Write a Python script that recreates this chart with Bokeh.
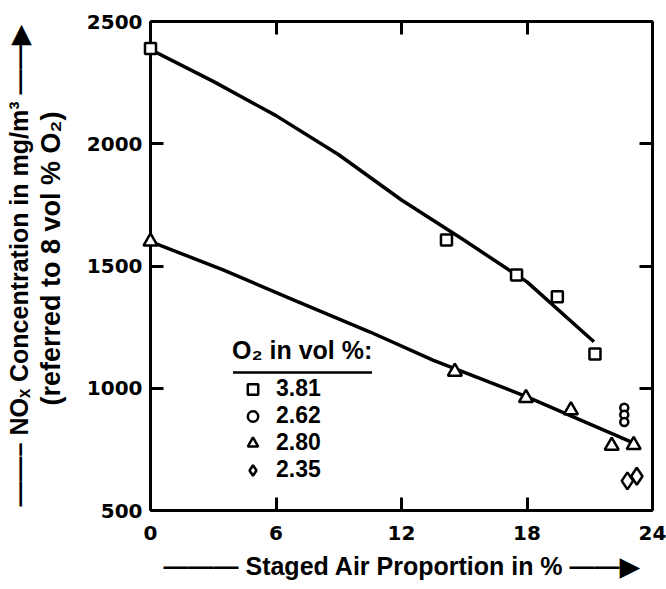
from bokeh.plotting import figure
from bokeh.models import (Range1d, LinearAxis, FixedTicker, Legend, LegendItem, Arrow)
from bokeh.embed import file_html
from bokeh.resources import INLINE

# ---- data ----
o2_381_x = [0.0, 14.15, 17.5, 19.45, 21.25]
o2_381_y = [2390, 1606, 1463, 1374, 1140]
o2_262_x = [22.65, 22.65, 22.65]
o2_262_y = [920, 892, 862]
o2_280_x = [0.0, 14.55, 17.95, 20.1, 22.05, 23.1]
o2_280_y = [1600, 1068, 960, 910, 765, 768]
o2_235_x = [22.8, 23.25]
o2_235_y = [621, 640]
fit_381_x = [0, 3, 6, 9, 12, 15, 18, 21.2]
fit_381_y = [2385, 2255, 2115, 1955, 1770, 1605, 1435, 1190]
fit_280_x = [0, 3.5, 7, 10.5, 13.5, 18, 23.0]
fit_280_y = [1600, 1483, 1355, 1230, 1115, 965, 780]
x_ticks = [0, 6, 12, 18, 24]
y_ticks = [500, 1000, 1500, 2000, 2500]
legend_title = "O\u2082 in vol %:"
legend_labels = ["3.81", "2.62", "2.80", "2.35"]
x_title = "\u2014\u2014\u2014 Staged Air Proportion in % \u2014\u2014\u25b6"
y_title_1 = "\u2014\u2014\u2013 NO\u2093 Concentration in mg/m\u00b3 \u2014\u2014\u25b6"
y_title_2 = "\u00a0\u00a0(referred to 8 vol % O\u2082)"

LBL_FONT = "Liberation Sans"
TICK_FONT = "DejaVu Sans"

p = figure(width=666, height=589, output_backend="svg", toolbar_location=None,
           x_range=Range1d(0, 24), y_range=Range1d(500, 2500),
           min_border_left=150, min_border_right=14, min_border_top=21,
           min_border_bottom=79)
p.grid.visible = False
p.outline_line_color = None
p.background_fill_color = "white"
p.border_fill_color = "white"

xa = p.below[0]
ya = p.left[0]

# axes (box with inward ticks on all sides)
top_ax = LinearAxis()
right_ax = LinearAxis()
p.add_layout(top_ax, "above")
p.add_layout(right_ax, "right")
for ax in (xa, top_ax):
    ax.ticker = FixedTicker(ticks=x_ticks)
for ax in (ya, right_ax):
    ax.ticker = FixedTicker(ticks=y_ticks)
for ax in (xa, ya, top_ax, right_ax):
    ax.axis_line_width = 3
    ax.axis_line_color = "black"
    ax.major_tick_in = 13
    ax.major_tick_out = 0
    ax.major_tick_line_width = 3
    ax.major_tick_line_color = "black"
    ax.minor_tick_line_color = None
    ax.major_label_text_font = TICK_FONT
    ax.major_label_text_font_style = "bold"
    ax.major_label_text_font_size = "20px"
    ax.major_label_text_color = "black"
    ax.axis_label_text_font = LBL_FONT
    ax.axis_label_text_font_style = "bold"
    ax.axis_label_text_font_size = "25px"
    ax.axis_label_text_color = "black"
top_ax.major_label_text_font_size = "0px"
top_ax.major_label_standoff = 0
right_ax.major_label_text_font_size = "0px"
right_ax.major_label_standoff = 0

xa.major_label_standoff = 15
xa.axis_label = x_title
xa.axis_label_text_font_size = "25px"
xa.axis_label_standoff = 9

ya.major_label_standoff = 8
ya.axis_label = y_title_2
ya.axis_label_text_font_size = "27px"
ya.axis_label_standoff = 18

# outer left axis carrying the first line of the y title
ya2 = LinearAxis(ticker=FixedTicker(ticks=[]), axis_line_color=None,
                 major_tick_line_color=None, minor_tick_line_color=None,
                 major_tick_in=0, major_tick_out=0, minor_tick_in=0, minor_tick_out=0,
                 major_label_text_font_size="0px", major_label_standoff=0,
                 axis_label=y_title_1, axis_label_standoff=0,
                 axis_label_text_font=LBL_FONT, axis_label_text_font_style="bold",
                 axis_label_text_font_size="25px", axis_label_text_color="black")
p.add_layout(ya2, "left")

# fitted curves
p.line(fit_381_x, fit_381_y, line_color="black", line_width=3.5)
p.line(fit_280_x, fit_280_y, line_color="black", line_width=3.5)

# points (drawn on top of the frame so markers on the axis are not cut)
mk = dict(fill_color="white", line_color="black", line_width=2.5, level="overlay")
r_sq = p.scatter(o2_381_x, o2_381_y, marker="square", size=11, **mk)
r_ci = p.scatter(o2_262_x, o2_262_y, marker="circle", size=8, **mk)
r_tr = p.scatter(o2_280_x, o2_280_y, marker="triangle", size=14, **mk)
r_di = p.scatter(o2_235_x, o2_235_y, marker="diamond", size=17, **mk)

legend = Legend(items=[LegendItem(label=legend_labels[0], renderers=[r_sq]),
                       LegendItem(label=legend_labels[1], renderers=[r_ci]),
                       LegendItem(label=legend_labels[2], renderers=[r_tr]),
                       LegendItem(label=legend_labels[3], renderers=[r_di])],
                location=(82, 27), title=legend_title,
                title_text_font=LBL_FONT, title_text_font_style="bold",
                title_text_font_size="25px", title_standoff=10,
                title_text_color="black",
                label_text_font=LBL_FONT, label_text_font_style="bold",
                label_text_font_size="23px", label_text_color="black",
                glyph_width=41, glyph_height=26, label_height=26,
                label_standoff=3, spacing=0, padding=0, margin=0,
                border_line_color=None, background_fill_alpha=0)
p.add_layout(legend, "center")

# underline of the legend title
p.add_layout(Arrow(x_start=82.5, y_start=138, x_end=221.5, y_end=138,
                   start_units="screen", end_units="screen", end=None,
                   line_width=2.5, line_color="black"))

open("out.html", "w").write(file_html(p, INLINE))
